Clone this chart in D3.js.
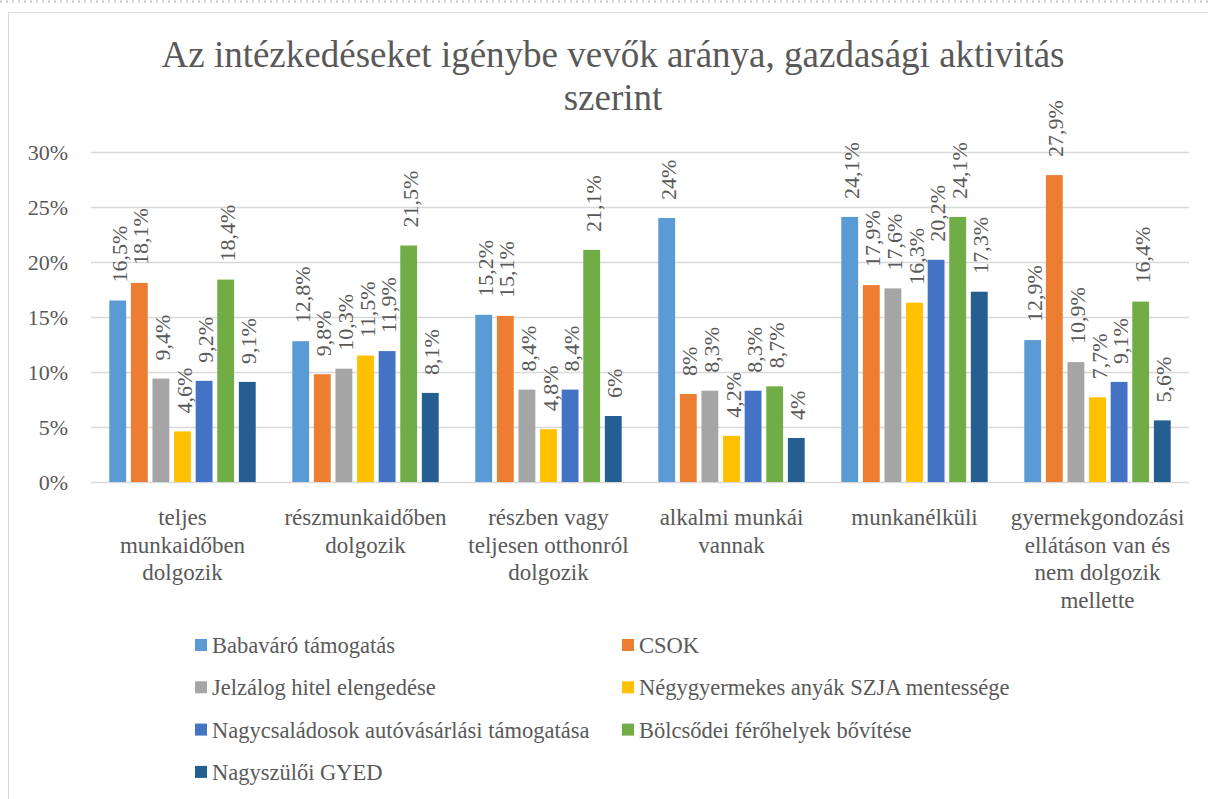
<!DOCTYPE html>
<html>
<head>
<meta charset="utf-8">
<script src="https://cdn.jsdelivr.net/npm/d3@7"></script>
<style>
  body { margin: 0; background: #fff; }
  svg text { font-family: "Liberation Serif", Tinos, "Times New Roman", Times !important; fill: #595959; }
</style>
</head>
<body>
<div id="root"></div>
<script>
const categories = [
    ["teljes", "munkaidőben", "dolgozik"],
    ["részmunkaidőben", "dolgozik"],
    ["részben vagy", "teljesen otthonról", "dolgozik"],
    ["alkalmi munkái", "vannak"],
    ["munkanélküli"],
    ["gyermekgondozási", "ellátáson van és", "nem dolgozik", "mellette"]
];
const seriesNames = [
    "Babaváró támogatás",
    "CSOK",
    "Jelzálog hitel elengedése",
    "Négygyermekes anyák SZJA mentessége",
    "Nagycsaládosok autóvásárlási támogatása",
    "Bölcsődei férőhelyek bővítése",
    "Nagyszülői GYED"
];
const colors = ["#5B9BD5", "#ED7D31", "#A5A5A5", "#FFC000", "#4472C4", "#70AD47", "#255E91"];
// one array per category, in series order
const values = [
    [16.5, 18.1, 9.4, 4.6, 9.2, 18.4, 9.1],
    [12.8, 9.8, 10.3, 11.5, 11.9, 21.5, 8.1],
    [15.2, 15.1, 8.4, 4.8, 8.4, 21.1, 6],
    [24, 8, 8.3, 4.2, 8.3, 8.7, 4],
    [24.1, 17.9, 17.6, 16.3, 20.2, 24.1, 17.3],
    [12.9, 27.9, 10.9, 7.7, 9.1, 16.4, 5.6]
];
const yTicks = [0, 5, 10, 15, 20, 25, 30];

const w = 1208, h = 799;
const plot = { left: 91, right: 1189, top: 152, bottom: 482 };
const FONT = '"Liberation Serif", Tinos, "Times New Roman", Times';

const svg = d3.select("#root").append("svg")
    .attr("width", w).attr("height", h);

const txt = (sel) => sel.style("font-family", FONT).style("fill", "#595959");

// dotted line at the very top
svg.append("line")
    .attr("x1", 0).attr("x2", w).attr("y1", 1.5).attr("y2", 1.5)
    .attr("stroke", "#c8c8c8").attr("stroke-width", 2)
    .attr("stroke-dasharray", "2,4");

// chart frame
svg.append("rect")
    .attr("x", 8.5).attr("y", 12.5)
    .attr("width", w + 10).attr("height", h)
    .attr("fill", "#fff").attr("stroke", "#d9d9d9");

// title
const title = svg.append("text")
    .attr("text-anchor", "middle")
    .attr("font-size", 37)
    .call(txt);
title.append("tspan").attr("x", 613).attr("y", 67).text("Az intézkedéseket igénybe vevők aránya, gazdasági aktivitás");
title.append("tspan").attr("x", 613).attr("y", 110).text("szerint");

const y = d3.scaleLinear().domain([0, 30]).range([plot.bottom, plot.top]);
const x0 = d3.scaleBand().domain(d3.range(categories.length))
    .range([plot.left, plot.right]).paddingInner(0.2).paddingOuter(0.1);
const x1 = d3.scaleBand().domain(d3.range(seriesNames.length))
    .range([0, x0.bandwidth()]).paddingInner(0.22).paddingOuter(0);

// gridlines + y labels
const yAxis = svg.append("g");
yAxis.selectAll("line").data(yTicks).enter().append("line")
    .attr("x1", plot.left).attr("x2", plot.right)
    .attr("y1", d => Math.round(y(d)) + 0.5).attr("y2", d => Math.round(y(d)) + 0.5)
    .attr("stroke", "#d9d9d9").attr("stroke-width", 1.5);
yAxis.selectAll("text").data(yTicks).enter().append("text")
    .attr("x", 68).attr("y", d => y(d) + 8)
    .attr("text-anchor", "end").attr("font-size", 22)
    .call(txt)
    .text(d => d + "%");

// bars
const groups = svg.selectAll("g.cat").data(values).enter().append("g")
    .attr("class", "cat")
    .attr("transform", (d, i) => `translate(${x0(i)},0)`);

groups.selectAll("rect").data(d => d).enter().append("rect")
    .attr("x", (d, i) => x1(i))
    .attr("y", d => y(d))
    .attr("width", x1.bandwidth())
    .attr("height", d => y(0) - y(d))
    .attr("fill", (d, i) => colors[i]);

groups.selectAll("text").data(d => d).enter().append("text")
    .attr("transform", (d, i) => `translate(${x1(i) + x1.bandwidth() / 2 + 9},${y(d) - 18}) rotate(-90)`)
    .attr("font-size", 22)
    .call(txt)
    .text(d => String(d).replace(".", ",") + "%");

// category labels
const catLabels = svg.selectAll("text.cat").data(categories).enter().append("text")
    .attr("class", "cat")
    .attr("text-anchor", "middle")
    .attr("font-size", 23)
    .call(txt);
catLabels.selectAll("tspan").data((d, i) => d.map(s => ({ s, i }))).enter().append("tspan")
    .attr("x", d => x0(d.i) + x0.bandwidth() / 2)
    .attr("y", (d, j) => 525 + j * 27.5)
    .text(d => d.s);

// legend
const legend = svg.append("g");
const item = legend.selectAll("g").data(seriesNames).enter().append("g")
    .attr("transform", (d, i) => `translate(${i % 2 === 0 ? 195 : 622},${645 + Math.floor(i / 2) * 42.3})`);
item.append("rect")
    .attr("x", 0).attr("y", -6).attr("width", 12).attr("height", 12)
    .attr("fill", (d, i) => colors[i]);
item.append("text")
    .attr("x", 17).attr("y", 8)
    .attr("font-size", 22.5)
    .call(txt)
    .text(d => d);
</script>
</body>
</html>
